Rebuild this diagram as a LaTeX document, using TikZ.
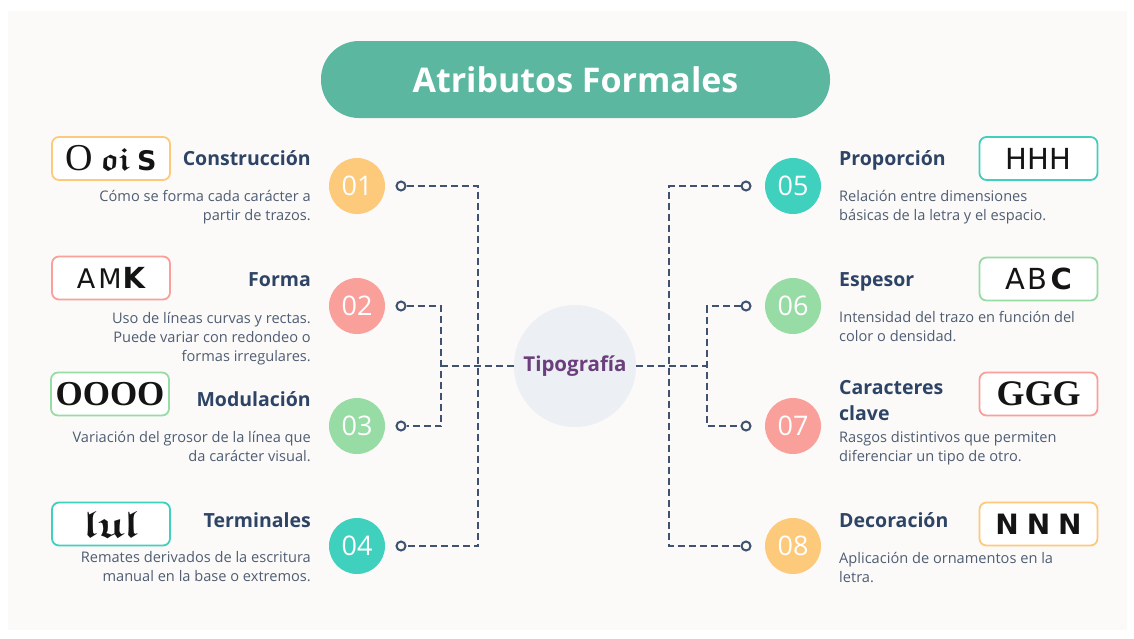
\documentclass[tikz,border=0pt]{standalone}
\usepackage{fontspec}
\usepackage{amssymb}
\usepackage{graphicx}
\setmainfont{Open Sans}
\newfontfamily\serifd{Liberation Serif}
\newfontfamily\sansd{DejaVu Sans}
\definecolor{bgpanel}{HTML}{FBFAF8}
\definecolor{corange}{HTML}{FDC97A}
\definecolor{csalmon}{HTML}{F9A09B}
\definecolor{cgreen}{HTML}{96DCA4}
\definecolor{cteal}{HTML}{40D0BE}
\definecolor{cpill}{HTML}{5CB7A0}
\definecolor{cnavy}{HTML}{2E4466}
\definecolor{cdesc}{HTML}{4F5D73}
\definecolor{cconn}{HTML}{3F5270}
\definecolor{ccenter}{HTML}{ECEFF3}
\definecolor{cpurple}{HTML}{6B3F7C}
\definecolor{cglyph}{HTML}{141414}
\tikzset{
  numc/.style={circle, minimum size=56pt, inner sep=0pt, text=white,
    font=\fontsize{27}{27}\selectfont},
  ring/.style={circle, draw=cconn, line width=2pt, fill=bgpanel, minimum size=9pt, inner sep=0pt},
  conn/.style={draw=cconn, line width=2.2pt, dash pattern=on 7pt off 4pt},
  headL/.style={anchor=base east, inner sep=0pt, text=cnavy, font=\bfseries\fontsize{19.5}{24}\selectfont},
  headR/.style={anchor=base west, inner sep=0pt, text=cnavy, font=\bfseries\fontsize{19.5}{26}\selectfont, align=left},
  descL/.style={anchor=base east, inner sep=0pt, text=cdesc, align=right, font=\fontsize{14.6}{19}\selectfont},
  descR/.style={anchor=base west, inner sep=0pt, text=cdesc, align=left, font=\fontsize{14.6}{19}\selectfont},
  imgbox/.style={rounded corners=7pt, line width=1.8pt, minimum width=118pt, minimum height=43pt,
    inner sep=0pt, fill=white, text=cglyph},
}
\begin{document}
\begin{tikzpicture}[x=1pt,y=-1pt]
\useasboundingbox (0,0) rectangle (1134,638);
\fill[white] (0,0) rectangle (1134,638);
\fill[bgpanel] (8,11) rectangle (1127,630);

% title
\node[fill=cpill, rounded corners=38pt, minimum width=509pt, minimum height=77pt, inner sep=0pt,
  text=white, font=\bfseries\fontsize{34}{34}\selectfont] (title) at (575.5,79.5) {Atributos Formales};

% centre
\node[circle, fill=ccenter, minimum size=122pt, inner sep=0pt, text=cpurple,
  font=\bfseries\fontsize{20.5}{22}\selectfont] (center) at (575,366) {Tipografía};

% number circles
\node[numc, fill=corange] (n1) at (357,186) {01};
\node[numc, fill=csalmon] (n2) at (357,306) {02};
\node[numc, fill=cgreen] (n3) at (357,426) {03};
\node[numc, fill=cteal] (n4) at (357,546) {04};
\node[numc, fill=cteal] (n5) at (793,186) {05};
\node[numc, fill=cgreen] (n6) at (793,306) {06};
\node[numc, fill=csalmon] (n7) at (793,426) {07};
\node[numc, fill=corange] (n8) at (793,546) {08};

% rings
\node[ring] (r1) at (401,186) {};
\node[ring] (r2) at (401,306) {};
\node[ring] (r3) at (401,426) {};
\node[ring] (r4) at (401,546) {};
\node[ring] (r5) at (746,186) {};
\node[ring] (r6) at (746,306) {};
\node[ring] (r7) at (746,426) {};
\node[ring] (r8) at (746,546) {};

\coordinate (lo) at (478,366);
\coordinate (li) at (441,366);
\coordinate (ro) at (669,366);
\coordinate (ri) at (707,366);

\draw[conn] (r1.east) -| (lo) |- (r4.east);
\draw[conn] (r2.east) -| (li) |- (r3.east);
\draw[conn] (li) -- (center.west);
\draw[conn] (r5.west) -| (ro) |- (r8.west);
\draw[conn] (r6.west) -| (ri) |- (r7.west);
\draw[conn] (center.east) -- (ri);

% left headings
\node[headL] (h1) at (311,165) {Construcción};
\node[headL] (h2) at (311,286) {Forma};
\node[headL] (h3) at (311,406) {Modulación};
\node[headL] (h4) at (311,527) {Terminales};
% left descriptions (anchor = baseline of last line)
\node[descL] (d1) at (311,220) {Cómo se forma cada carácter a\\partir de trazos.};
\node[descL] (d2) at (311,361) {Uso de líneas curvas y rectas.\\Puede variar con redondeo o\\formas irregulares.};
\node[descL] (d3) at (311,461) {Variación del grosor de la línea que\\da carácter visual.};
\node[descL] (d4) at (311,581) {Remates derivados de la escritura\\manual en la base o extremos.};

% right headings
\node[headR] (h5) at (839,165) {Proporción};
\node[headR] (h6) at (839,286) {Espesor};
\node[headR] (h7) at (839,420) {Caracteres\\clave};
\node[headR] (h8) at (839,527) {Decoración};
% right descriptions
\node[descR] (d5) at (839,220) {Relación entre dimensiones\\básicas de la letra y el espacio.};
\node[descR] (d6) at (839,341) {Intensidad del trazo en función del\\color o densidad.};
\node[descR] (d7) at (839,461) {Rasgos distintivos que permiten\\diferenciar un tipo de otro.};
\node[descR] (d8) at (839,582) {Aplicación de ornamentos en la\\letra.};

% sample boxes
\node[imgbox, draw=corange] (b1) at (111,158.5)
  {{\serifd\fontsize{38}{38}\selectfont O}\hspace{7pt}\scalebox{3.2}{\boldmath$\mathfrak{oi}$}\hspace{7pt}{\sansd\bfseries\fontsize{27}{27}\selectfont S}};
\node[imgbox, draw=csalmon] (b2) at (111,278)
  {{\sansd\fontsize{27}{27}\selectfont A\hspace{3pt}M\hspace{1pt}}{\sansd\bfseries\fontsize{29}{29}\selectfont K}};
\node[imgbox, draw=cgreen] (b3) at (110,394)
  {{\serifd\bfseries\fontsize{35}{35}\selectfont OOOO}};
\node[imgbox, draw=cteal] (b4) at (111,524)
  {\scalebox{4.4}[3.8]{\boldmath$\mathfrak{lul}$}};
\node[imgbox, draw=cteal] (b5) at (1038.5,158.5)
  {{\sansd\fontsize{29}{29}\selectfont HHH}};
\node[imgbox, draw=cgreen] (b6) at (1038.5,279)
  {{\sansd\fontsize{29}{29}\selectfont A\hspace{3pt}B\hspace{3pt}}{\sansd\bfseries\fontsize{29}{29}\selectfont C}};
\node[imgbox, draw=csalmon] (b7) at (1038.5,394)
  {{\serifd\bfseries\fontsize{36}{36}\selectfont GGG}};
\node[imgbox, draw=corange] (b8) at (1038.5,524)
  {{\sansd\bfseries\fontsize{28}{28}\selectfont N\hspace{8pt}N\hspace{8pt}N}};
\end{tikzpicture}
\end{document}
